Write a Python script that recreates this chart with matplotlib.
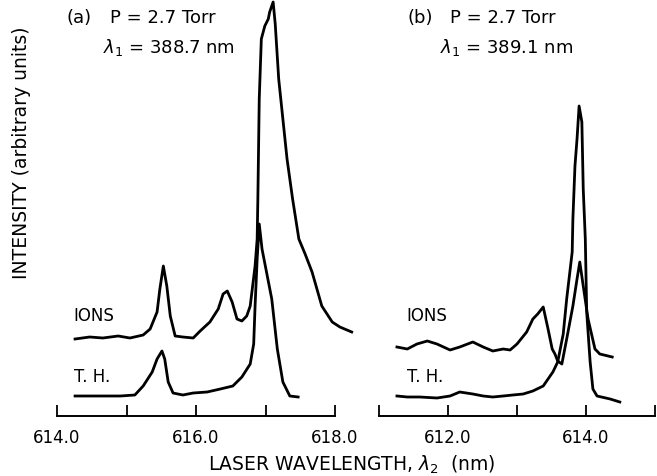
import matplotlib
matplotlib.use("Agg")
import matplotlib.pyplot as plt
from matplotlib.ticker import FixedLocator, FixedFormatter

# Panel (a): lambda_1 = 388.7 nm
a_ions_wl = [614.26, 614.47, 614.66, 614.88, 615.05, 615.24, 615.34, 615.44, 615.48,
             615.53, 615.58, 615.63, 615.70, 615.81, 615.96, 616.06, 616.20, 616.32,
             616.39, 616.45, 616.52, 616.59, 616.66, 616.73, 616.78, 616.85, 616.88,
             616.89, 616.91, 616.94, 616.99, 617.04, 617.06, 617.11, 617.14, 617.19,
             617.25, 617.31, 617.39, 617.48, 617.57, 617.67, 617.81, 617.96, 618.07,
             618.24]
a_ions_int = [7.7, 7.9, 7.8, 8.0, 7.8, 8.1, 8.7, 10.4, 12.7,
              15.0, 13.0, 10.0, 8.0, 7.9, 7.8, 8.5, 9.4, 10.7,
              12.2, 12.5, 11.4, 9.7, 9.5, 10.0, 11.0, 15.0, 17.7,
              21.7, 31.7, 37.7, 39.0, 39.7, 40.4, 41.4, 39.2, 33.7,
              29.7, 25.7, 21.7, 17.7, 16.2, 14.4, 11.0, 9.4, 8.9,
              8.4]

a_th_wl = [614.26, 614.62, 614.91, 615.12, 615.24, 615.37, 615.44, 615.51, 615.55,
           615.60, 615.67, 615.81, 615.96, 616.16, 616.35, 616.53, 616.66, 616.78,
           616.83, 616.85, 616.88, 616.91, 616.95, 617.02, 617.09, 617.17, 617.25,
           617.35, 617.47]
a_th_int = [2.0, 2.0, 2.0, 2.1, 3.0, 4.4, 5.7, 6.5, 5.7,
            3.4, 2.3, 2.1, 2.3, 2.4, 2.7, 3.0, 3.9, 5.2,
            7.2, 11.0, 15.7, 19.2, 16.7, 14.2, 11.7, 6.7, 3.4,
            2.0, 1.9]

# Panel (b): lambda_1 = 389.1 nm
b_ions_wl = [611.26, 611.41, 611.55, 611.70, 611.84, 612.03, 612.17, 612.36, 612.51,
             612.65, 612.80, 612.90, 613.00, 613.14, 613.23, 613.30, 613.38, 613.45,
             613.51, 613.55, 613.59, 613.65, 613.72, 613.81, 613.87, 613.91, 613.96,
             614.03, 614.13, 614.20, 614.38]
b_ions_int = [6.9, 6.7, 7.2, 7.5, 7.2, 6.6, 6.9, 7.4, 6.9,
              6.5, 6.7, 6.6, 7.2, 8.4, 9.7, 10.2, 10.9, 8.7,
              6.7, 6.2, 5.5, 5.2, 7.7, 11.0, 13.7, 15.4, 13.0,
              9.7, 6.7, 6.2, 5.9]

b_th_wl = [611.26, 611.41, 611.59, 611.84, 612.03, 612.17, 612.36, 612.51, 612.65,
           612.80, 612.94, 613.09, 613.23, 613.38, 613.52, 613.59, 613.67, 613.72,
           613.80, 613.81, 613.84, 613.87, 613.90, 613.94, 613.96, 613.99, 614.01,
           614.06, 614.10, 614.16, 614.35, 614.49]
b_th_int = [2.0, 1.9, 1.9, 1.8, 2.0, 2.4, 2.2, 2.0, 1.9,
            2.0, 2.1, 2.2, 2.5, 3.0, 4.4, 5.4, 8.2, 11.7,
            16.4, 19.7, 25.0, 27.7, 31.0, 29.4, 22.7, 17.7, 10.4,
            5.4, 2.7, 2.0, 1.7, 1.4]

panels = [
    dict(xlim=(614.0, 618.0), ticks=[614, 615, 616, 617, 618],
         labels=["614.0", "", "616.0", "", "618.0"],
         ions=(a_ions_wl, a_ions_int), th=(a_th_wl, a_th_int),
         tag="(a)", lam=r"$\lambda_1$ = 388.7 nm",
         tag_x=614.14, p_x=614.76, lam_x=614.66, lab_x=614.23,
         rect=[57 / 657, 60 / 477, 278 / 657, 417 / 477]),
    dict(xlim=(611.0, 615.0), ticks=[611, 612, 613, 614, 615],
         labels=["", "612.0", "", "614.0", ""],
         ions=(b_ions_wl, b_ions_int), th=(b_th_wl, b_th_int),
         tag="(b)", lam=r"$\lambda_1$ = 389.1 nm",
         tag_x=611.42, p_x=612.03, lam_x=611.88, lab_x=611.39,
         rect=[379 / 657, 60 / 477, 276 / 657, 417 / 477]),
]

fig = plt.figure(figsize=(6.57, 4.77), dpi=100)
fs = 12
head_fs = 13

for p in panels:
    ax = fig.add_axes(p["rect"])
    ax.plot(*p["ions"], color="black", lw=2.0, clip_on=False)
    ax.plot(*p["th"], color="black", lw=2.0, clip_on=False)
    ax.set_xlim(*p["xlim"])
    ax.set_ylim(0, 41.7)
    for s in ("top", "right", "left"):
        ax.spines[s].set_visible(False)
    ax.spines["bottom"].set_linewidth(1.4)
    ax.set_yticks([])
    ax.xaxis.set_major_locator(FixedLocator(p["ticks"]))
    ax.xaxis.set_major_formatter(FixedFormatter(p["labels"]))
    ax.tick_params(axis="x", direction="in", length=8, width=1.3,
                   pad=9, labelsize=fs)
    ax.text(p["tag_x"], 39.9, p["tag"], fontsize=head_fs, va="center")
    ax.text(p["p_x"], 39.9, "P = 2.7 Torr", fontsize=head_fs, va="center")
    ax.text(p["lam_x"], 36.9, p["lam"], fontsize=head_fs, va="center")
    ax.text(p["lab_x"], 10.1, "IONS", fontsize=fs, va="center")
    ax.text(p["lab_x"] + 0.02, 4.0, "T. H.", fontsize=fs, va="center")

fig.text(352 / 657, 1 - 465 / 477, r"LASER WAVELENGTH, $\lambda_2$  (nm)",
         fontsize=13.5, ha="center", va="center")
fig.text(22 / 657, 1 - 153 / 477, "INTENSITY (arbitrary units)",
         fontsize=13.5, rotation=90, ha="center", va="center")

fig.savefig("out.png", dpi=100)
